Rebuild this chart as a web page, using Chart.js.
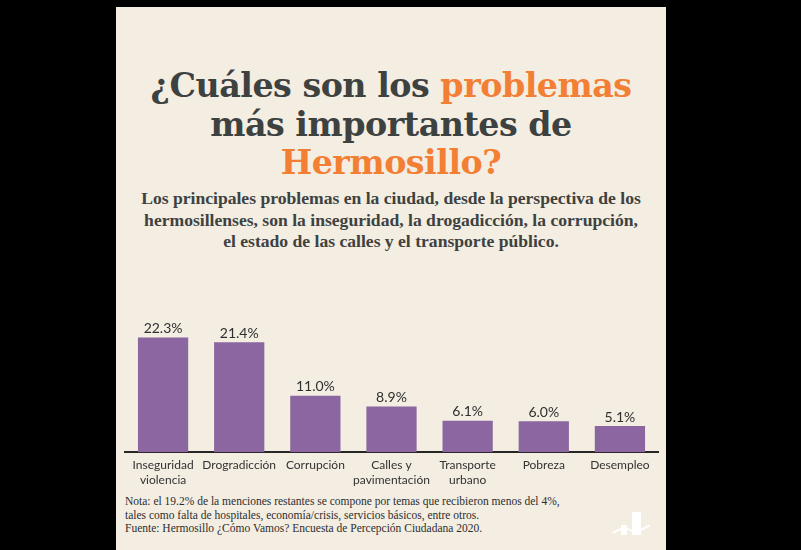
<!DOCTYPE html>
<html lang="es">
<head>
<meta charset="utf-8">
<script src="https://cdn.jsdelivr.net/npm/chart.js@4.4.0/dist/chart.umd.min.js"></script>
<style>
  html, body { margin: 0; padding: 0; background: #000; width: 801px; height: 550px; overflow: hidden; }
  #panel { position: absolute; left: 116px; top: 7px; width: 550px; height: 543px; background: #f3ede2; }
  #title { position: absolute; left: 0; width: 550px; top: 60px; text-align: center;
    font-family: "DejaVu Serif", serif; font-weight: bold;
    font-size: 33.3px; line-height: 38.5px; color: #3d4241; letter-spacing: -0.5px; }
  #title .hl { color: #f37f35; }
  #subtitle { position: absolute; left: 0; width: 550px; top: 181px; text-align: center;
    font-family: "Liberation Serif", serif; font-weight: bold; font-size: 17.6px; line-height: 21.5px; color: #3d4241; }
  #notes { position: absolute; left: 9px; top: 488px; width: 530px;
    font-family: "Liberation Serif", serif; font-size: 11.5px; line-height: 13.5px; color: #2e2e2e; }
  #chart { position: absolute; left: 0; top: 291px; }
  .logo { position: absolute; background: #fff; }
</style>
</head>
<body>
<div id="panel">
  <div id="title">¿Cuáles son los <span class="hl">problemas</span><br>más importantes de<br><span class="hl">Hermosillo?</span></div>
  <div id="subtitle">Los principales problemas en la ciudad, desde la perspectiva de los<br>hermosillenses, son la inseguridad, la drogadicción, la corrupción,<br>el estado de las calles y el transporte público.</div>
  <canvas id="chart" width="550" height="195"></canvas>
  <div id="notes">Nota: el 19.2% de la menciones restantes se compone por temas que recibieron menos del 4%,<br>tales como falta de hospitales, economía/crisis, servicios básicos, entre otros.<br>Fuente: Hermosillo ¿Cómo Vamos? Encuesta de Percepción Ciudadana 2020.</div>
  <div class="logo" style="left:505px;top:518px;width:6px;height:10px"></div>
  <div class="logo" style="left:516px;top:505px;width:9px;height:23px"></div>
  <div class="logo" style="left:496px;top:522px;width:13px;height:2px;transform:rotate(-25deg)"></div>
  <div class="logo" style="left:508px;top:522px;width:12px;height:2px;transform:rotate(25deg)"></div>
  <div class="logo" style="left:518px;top:521px;width:17px;height:2px;transform:rotate(-28deg)"></div>
</div>
<script>
// Categories and survey shares (%)
const categories = [
  ["Inseguridad", "violencia"],
  "Drogradicción",
  "Corrupción",
  ["Calles y", "pavimentación"],
  ["Transporte", "urbano"],
  "Pobreza",
  "Desempleo"
];
const shares = [22.3, 21.4, 11.0, 8.9, 6.1, 6.0, 5.1];
const valueLabels = ["22.3%", "21.4%", "11.0%", "8.9%", "6.1%", "6.0%", "5.1%"];

// Draws the percentage above each bar
const valueLabelPlugin = {
  id: 'valueLabels',
  afterDatasetsDraw(chart) {
    const ctx = chart.ctx;
    const meta = chart.getDatasetMeta(0);
    ctx.save();
    ctx.font = '14px Lato, sans-serif';
    ctx.fillStyle = '#2f2f2f';
    ctx.textAlign = 'center';
    ctx.textBaseline = 'bottom';
    meta.data.forEach((bar, i) => {
      ctx.fillText(valueLabels[i], bar.x, bar.y - 2);
    });
    ctx.restore();
  }
};

const ctx = document.getElementById('chart').getContext('2d');
const shareChart = new Chart(ctx, {
  type: 'bar',
  data: {
    labels: categories,
    datasets: [{
      data: shares,
      backgroundColor: '#8b66a0',
      barPercentage: 0.66,
      categoryPercentage: 1
    }]
  },
  options: {
    responsive: false,
    animation: false,
    layout: { padding: { left: 9, right: 8, top: 25.7, bottom: 0 } },
    plugins: { legend: { display: false }, tooltip: { enabled: false } },
    scales: {
      y: { display: false, min: 0, max: 25 },
      x: {
        grid: { display: false, drawTicks: false },
        border: { color: '#262626', width: 2 },
        ticks: {
          color: '#333',
          font: { family: 'Lato, sans-serif', size: 12 },
          padding: 6,
          maxRotation: 0,
          autoSkip: false
        }
      }
    }
  },
  plugins: [valueLabelPlugin]
});
</script>
</body>
</html>
